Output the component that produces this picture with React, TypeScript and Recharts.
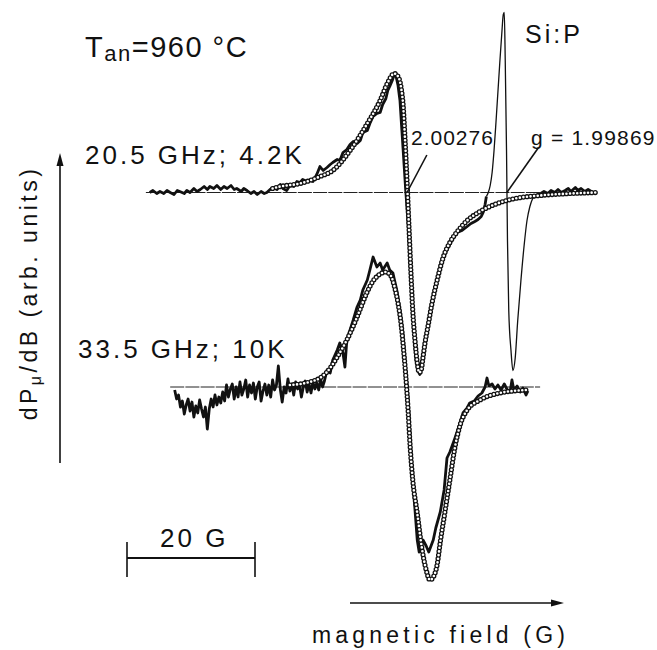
import * as React from "react";
import { ComposedChart, Line, XAxis, YAxis, ReferenceLine } from "recharts";

// field in G relative to the 2.00276 crossing, signal in arb. units (relative to each trace's baseline)
const fit20: [number, number][] = [
  [-21.0, 0.04], [-19.8, 0.06], [-16.7, 0.09], [-13.6, 0.16], [-11.6, 0.22],
  [-8.9, 0.42], [-6.2, 0.69], [-4.2, 0.92], [-3.0, 1.1], [-2.0, 1.19], [-1.4, 1.16], [-0.9, 1.04],
  [-0.6, 0.87], [-0.3, 0.52], [0.0, 0.12], [0.3, -0.33], [0.6, -0.78], [0.9, -1.18], [1.25, -1.48],
  [1.6, -1.7], [1.9, -1.8], [2.2, -1.78], [2.5, -1.65], [2.8, -1.51], [3.3, -1.33], [3.9, -1.11],
  [4.7, -0.88], [5.6, -0.66], [6.7, -0.5], [8.0, -0.38], [9.4, -0.28], [11.4, -0.19], [14.1, -0.11],
  [16.9, -0.06], [20.8, -0.03], [25.5, -0.01], [29.7, 0],
];

const data20a: [number, number][] = [
  [-40.2, 0], [-39.7, 0.02], [-39.1, -0.01], [-38.6, 0.01], [-38.0, -0.01], [-37.5, 0.02], [-37.0, 0],
  [-36.4, -0.02], [-35.9, 0.02], [-35.5, 0.01], [-34.8, -0.01], [-34.4, 0.02], [-33.9, 0], [-33.3, 0.04],
  [-32.8, 0.01], [-32.3, 0.03], [-31.7, 0.06], [-31.2, 0.03], [-30.8, 0.06], [-30.2, 0.04], [-29.7, 0.07],
  [-29.1, 0.03], [-28.6, 0.06], [-28.1, 0.04], [-27.5, 0.07], [-27.0, 0.03], [-26.6, 0.04], [-25.9, 0.01],
  [-25.5, 0.04], [-25.0, 0.02], [-24.4, -0.01], [-23.9, 0.01], [-23.4, -0.02], [-22.8, 0.01], [-22.3, -0.01],
  [-21.9, 0], [-21.4, 0.03], [-20.9, 0.05], [-20.3, 0.03], [-19.8, 0.08], [-19.4, 0.04], [-18.8, 0.02],
  [-18.3, 0.07], [-17.7, 0.06], [-17.2, 0.11], [-16.7, 0.1], [-16.3, 0.13], [-15.6, 0.11], [-15.2, 0.12],
  [-14.7, 0.11], [-14.1, 0.18], [-13.6, 0.26], [-13.1, 0.22], [-12.5, 0.25], [-12.0, 0.28], [-11.6, 0.3],
  [-10.9, 0.33], [-10.5, 0.32], [-10.0, 0.4], [-9.4, 0.43], [-8.9, 0.48], [-8.4, 0.51], [-7.8, 0.49],
  [-7.3, 0.52], [-6.9, 0.6], [-6.2, 0.62], [-5.8, 0.69], [-5.3, 0.76], [-4.7, 0.79], [-4.2, 0.8],
  [-3.8, 0.88], [-3.3, 0.94], [-3.0, 1.02], [-2.7, 1.06], [-2.3, 1.12], [-2.0, 1.18], [-1.7, 1.16],
  [-1.4, 1.07], [-1.1, 0.92], [-0.8, 0.62], [-0.5, 0.32], [-0.2, 0.02], [0.2, -0.33], [0.5, -0.72],
  [0.8, -1.08], [1.1, -1.42], [1.4, -1.68], [1.7, -1.78], [2.0, -1.82], [2.2, -1.77], [2.5, -1.64],
  [3.0, -1.45], [3.6, -1.19], [4.4, -0.94], [5.2, -0.74], [6.1, -0.59], [7.0, -0.48], [7.8, -0.4],
  [8.6, -0.38], [9.4, -0.34], [10.0, -0.31], [10.6, -0.29], [11.1, -0.27], [11.6, -0.24], [11.9, -0.2],
  [12.2, -0.12], [12.4, -0.04],
];

// narrow P line (drawn thin)
const data20p: [number, number][] = [
  [12.4, -0.04], [12.7, 0], [13.0, 0.07], [13.3, 0.2], [13.6, 0.42], [13.9, 0.7], [14.2, 1.0], [14.5, 1.3],
  [14.8, 1.58], [15.05, 1.78], [15.2, 1.8], [15.35, 1.32], [15.55, 0.42], [15.7, -0.48], [15.9, -1.18],
  [16.25, -1.58], [16.55, -1.78], [16.9, -1.66], [17.3, -1.28], [17.8, -0.88], [18.3, -0.53],
  [18.75, -0.28], [19.2, -0.14], [19.7, -0.05],
];

const data20b: [number, number][] = [
  [19.7, -0.05], [20.3, -0.03], [20.9, -0.01], [21.4, 0.01], [22.0, -0.01], [22.5, 0.02], [23.1, 0],
  [23.6, 0.03], [24.1, 0], [24.7, 0.02], [25.2, 0.04], [25.6, 0.01], [26.3, 0.05], [26.7, 0.02],
  [27.2, 0.04], [27.8, 0.01], [28.3, 0.03], [28.8, 0.01], [29.2, 0], [29.7, 0],
];

const fit33: [number, number][] = [
  [-18.3, 0.02], [-15.2, 0.05], [-13.6, 0.09], [-12.5, 0.15], [-10.9, 0.3],
  [-9.4, 0.47], [-7.8, 0.7], [-6.3, 0.94], [-5.3, 1.06], [-4.2, 1.13], [-3.3, 1.15], [-2.5, 1.11],
  [-1.9, 0.99], [-1.4, 0.84], [-0.9, 0.62], [-0.5, 0.35], [-0.2, 0.12], [0.2, -0.26], [0.5, -0.6],
  [0.9, -0.93], [1.6, -1.26], [2.3, -1.6], [3.0, -1.83], [3.6, -1.93], [4.2, -1.89], [4.7, -1.78],
  [5.2, -1.55], [5.9, -1.26], [6.7, -0.93], [7.5, -0.6], [8.3, -0.38], [9.4, -0.23], [11.4, -0.13],
  [14.5, -0.06], [18.75, -0.03],
];

const data33: [number, number][] = [
  [-36.3, -0.03], [-36.0, -0.12], [-35.7, -0.08], [-35.4, -0.2], [-35.1, -0.14], [-34.8, -0.27],
  [-34.5, -0.18], [-34.2, -0.12], [-33.9, -0.24], [-33.6, -0.15], [-33.3, -0.3], [-33.0, -0.19],
  [-32.7, -0.26], [-32.4, -0.13], [-32.1, -0.22], [-31.8, -0.3], [-31.5, -0.2], [-31.2, -0.42],
  [-30.9, -0.22], [-30.6, -0.12], [-30.3, -0.2], [-30.0, -0.08], [-29.7, -0.18], [-29.4, -0.1],
  [-29.1, -0.16], [-28.8, -0.05], [-28.5, -0.14], [-28.2, 0.02], [-27.9, -0.1], [-27.6, -0.02],
  [-27.3, 0.03], [-27.0, -0.12], [-26.7, 0], [-26.4, -0.1], [-26.1, 0.05], [-25.8, -0.08], [-25.5, -0.02],
  [-25.2, 0.07], [-24.9, -0.1], [-24.6, 0.02], [-24.3, -0.06], [-24.0, 0.04], [-23.7, -0.12], [-23.4, 0],
  [-23.1, 0.05], [-22.8, -0.14], [-22.5, -0.04], [-22.2, 0.03], [-21.9, -0.08], [-21.6, 0.02], [-21.3, -0.1],
  [-21.0, 0.07], [-20.7, -0.03], [-20.4, 0.02], [-20.1, 0.21], [-19.8, -0.02], [-19.5, -0.15], [-19.2, 0],
  [-18.9, -0.06], [-18.6, 0.08], [-18.3, -0.04], [-18.0, 0.03], [-17.7, -0.08], [-17.4, 0.05], [-17.1, -0.02],
  [-16.8, 0.02], [-16.5, -0.1], [-16.2, 0], [-15.9, 0.06], [-15.6, -0.05], [-15.3, 0.03], [-15.0, -0.06],
  [-14.7, 0.05], [-14.4, -0.02], [-14.1, 0.04], [-13.8, -0.03], [-13.5, 0.08], [-13.2, 0], [-12.9, 0.06],
  [-12.5, 0.17], [-12.0, 0.14], [-11.6, 0.27], [-10.9, 0.37],
  [-10.5, 0.44], [-10.0, 0.34], [-9.7, 0.2], [-9.4, 0.47], [-8.9, 0.57], [-8.4, 0.67], [-7.8, 0.8],
  [-7.3, 0.87], [-6.9, 0.97], [-6.2, 1.07], [-5.8, 1.17], [-5.3, 1.3], [-4.7, 1.2], [-4.2, 1.24],
  [-3.8, 1.17], [-3.1, 1.24], [-2.7, 1.17], [-2.2, 1.14], [-1.6, 0.97], [-1.1, 0.77], [-0.6, 0.52],
  [-0.2, 0.17], [0.2, -0.13], [0.5, -0.53], [0.9, -0.93], [1.25, -1.23], [1.6, -1.53], [1.9, -1.65],
  [2.2, -1.58], [2.5, -1.53], [3.0, -1.59], [3.4, -1.65], [3.75, -1.59], [4.1, -1.53], [4.5, -1.41],
  [5.2, -1.25], [5.8, -1.03], [6.25, -0.71], [6.7, -0.65], [7.5, -0.51], [8.3, -0.36], [8.75, -0.26],
  [9.4, -0.21], [9.8, -0.16], [10.5, -0.14], [11.1, -0.09], [11.7, -0.06], [12.2, 0], [12.5, 0.09],
  [12.8, 0.01], [13.3, 0.03], [13.75, -0.02], [14.2, 0.02], [14.7, -0.03], [15.2, 0.03], [15.6, -0.02],
  [16.1, -0.05], [16.4, 0.07], [16.7, -0.03], [17.2, 0.01], [17.7, -0.05], [18.1, -0.01], [18.6, -0.08],
  [18.9, -0.04],
];

const base20: [number, number][] = [[-40.8, 0], [29.7, 0]];
const base33: [number, number][] = [[-37.0, 0], [20.8, 0]];

const OFF20 = 4.575;
const OFF33 = 2.63;
const G_MARK_2 = 0; // 2.00276 crossing
const G_MARK_P = 15.6; // g = 1.99869 crossing
const SCALE_START = -43.75;
const SCALE_LEN = 20;

const rows = (pts: [number, number][], off: number) => pts.map(([b, s]) => ({ b, v: s + off }));

const W = 657;
const H = 650;
const font = "'Liberation Sans', Arial, Helvetica, sans-serif";

export default function App() {
  const ring = (pts: [number, number][], off: number, key: string) => [
    <Line key={key + "o"} data={rows(pts, off)} dataKey="v" type="monotone" stroke="#111" strokeWidth={5.2}
      strokeDasharray="0 3.6" strokeLinecap="round" dot={false} activeDot={false} isAnimationActive={false} />,
    <Line key={key + "i"} data={rows(pts, off)} dataKey="v" type="monotone" stroke="#fff" strokeWidth={2.6}
      strokeDasharray="0 3.6" strokeLinecap="round" dot={false} activeDot={false} isAnimationActive={false} />,
  ];

  return (
    <div style={{ position: "absolute", left: 0, top: 0, background: "#fff" }}>
      <ComposedChart width={W} height={H} margin={{ top: 0, right: 0, bottom: 0, left: 0 }}>
        <XAxis dataKey="b" type="number" domain={[-407 / 6.4, 250 / 6.4]} hide allowDataOverflow />
        <YAxis type="number" domain={[0, 6.5]} hide allowDataOverflow />

        <Line data={rows(base20, OFF20)} dataKey="v" stroke="#222" strokeWidth={1} strokeDasharray="14 1.2"
          dot={false} activeDot={false} isAnimationActive={false} />
        <Line data={rows(base33, OFF33)} dataKey="v" stroke="#222" strokeWidth={1} strokeDasharray="14 1.2"
          dot={false} activeDot={false} isAnimationActive={false} />

        <Line data={rows(data20a, OFF20)} dataKey="v" type="linear" stroke="#111" strokeWidth={2.8}
          strokeLinejoin="round" dot={false} activeDot={false} isAnimationActive={false} />
        <Line data={rows(data20p, OFF20)} dataKey="v" type="monotone" stroke="#111" strokeWidth={1.3}
          dot={false} activeDot={false} isAnimationActive={false} />
        <Line data={rows(data20b, OFF20)} dataKey="v" type="linear" stroke="#111" strokeWidth={2.8}
          strokeLinejoin="round" dot={false} activeDot={false} isAnimationActive={false} />
        <Line data={rows(data33, OFF33)} dataKey="v" type="linear" stroke="#111" strokeWidth={2.8}
          strokeLinejoin="round" dot={false} activeDot={false} isAnimationActive={false} />

        {ring(fit20, OFF20, "f20")}
        {ring(fit33, OFF33, "f33")}

        <ReferenceLine segment={[{ x: G_MARK_2, y: OFF20 }, { x: 3.1, y: 4.95 }]} stroke="#111" strokeWidth={1.6} />
        <ReferenceLine segment={[{ x: G_MARK_P, y: OFF20 }, { x: 20.5, y: 5.02 }]} stroke="#111" strokeWidth={1.6} />

        <ReferenceLine segment={[{ x: SCALE_START, y: 0.92 }, { x: SCALE_START + SCALE_LEN, y: 0.92 }]} stroke="#111" strokeWidth={2} />
        <ReferenceLine segment={[{ x: SCALE_START, y: 0.73 }, { x: SCALE_START, y: 1.08 }]} stroke="#111" strokeWidth={1.6} />
        <ReferenceLine segment={[{ x: SCALE_START + SCALE_LEN, y: 0.73 }, { x: SCALE_START + SCALE_LEN, y: 1.08 }]} stroke="#111" strokeWidth={1.6} />

        {/* axis arrows */}
        <line x1={60} y1={463} x2={60} y2={163} stroke="#111" strokeWidth={1.6} />
        <polygon points="60,153 56.5,166 63.5,166" fill="#111" />
        <line x1={350} y1={603} x2={552} y2={603} stroke="#111" strokeWidth={1.6} />
        <polygon points="564,603 551,599.5 551,606.5" fill="#111" />

        <text x={85} y={57} fontFamily={font} fontSize={29} letterSpacing={1.5} fill="#111">
          T<tspan fontSize={22} dy={4}>an</tspan><tspan dy={-4}>=960 °C</tspan>
        </text>
        <text x={525} y={43} fontFamily={font} fontSize={25} letterSpacing={3} fill="#111">Si:P</text>
        <text x={85} y={164} fontFamily={font} fontSize={26} letterSpacing={3} fill="#111">20.5 GHz; 4.2K</text>
        <text x={78} y={358} fontFamily={font} fontSize={26} letterSpacing={3} fill="#111">33.5 GHz; 10K</text>
        <text x={411} y={145} fontFamily={font} fontSize={21} letterSpacing={1} fill="#111">2.00276</text>
        <text x={531} y={145} fontFamily={font} fontSize={21} letterSpacing={1.2} fill="#111">g = 1.99869</text>
        <text x={160} y={547} fontFamily={font} fontSize={26} letterSpacing={3} fill="#111">20 G</text>
        <text x={312} y={643} fontFamily={font} fontSize={23} letterSpacing={4.2} fill="#111">magnetic field (G)</text>
        <text x={37} y={293} transform="rotate(-90 37 293)" textAnchor="middle" fontFamily={font} fontSize={23}
          letterSpacing={3.5} fill="#111">
          dP<tspan fontSize={16} dy={4}>μ</tspan><tspan dy={-4}>/dB (arb. units)</tspan>
        </text>
      </ComposedChart>
    </div>
  );
}
